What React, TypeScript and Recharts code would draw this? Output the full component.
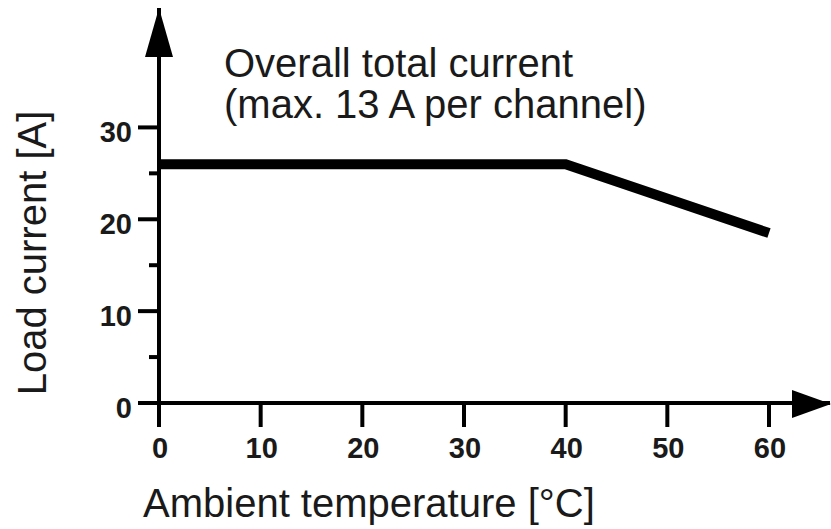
import React from 'react';
import { LineChart, Line, XAxis, YAxis, Customized } from 'recharts';

// derating curve: ambient temperature (°C) vs overall load current (A)
const temperatures = [0, 40, 60];
const currents = [26, 26, 18.5];
const xTicks = [0, 10, 20, 30, 40, 50, 60];
const yTicks = [0, 5, 10, 15, 20, 25, 30];

const data = temperatures.map((t, i) => ({ t, current: currents[i] }));

const W = 831;
const H = 529;
const PLOT_LEFT = 159;
const PLOT_TOP = 8;
const X_AXIS_H = 126;
const PLOT_BOTTOM = H - X_AXIS_H;
const FONT = '"Liberation Sans", Arial, Helvetica, sans-serif';
const INK = '#1a1a1a';

const XTick = (props: any) => {
  const { x, y, payload } = props;
  return (
    <g>
      <line x1={x} x2={x} y1={y} y2={y + 24} stroke="#000" strokeWidth={4} />
      <text x={x + 1} y={y + 55} textAnchor="middle" fontFamily={FONT} fontWeight="bold" fontSize={29} fill={INK}>
        {payload.value}
      </text>
    </g>
  );
};

const YTick = (props: any) => {
  const { x, y, payload } = props;
  const major = payload.value % 10 === 0;
  const len = major ? 21 : 10;
  return (
    <g>
      <line x1={x - len} x2={x} y1={y} y2={y} stroke="#000" strokeWidth={4} />
      {major && (
        <text x={x - 27} y={y + 15} textAnchor="end" fontFamily={FONT} fontWeight="bold" fontSize={29} fill={INK}>
          {payload.value}
        </text>
      )}
    </g>
  );
};

const Decorations = () => (
  <g>
    {/* axis arrow heads */}
    <polygon points={`${PLOT_LEFT},${PLOT_TOP} ${PLOT_LEFT - 14},${PLOT_TOP + 49} ${PLOT_LEFT + 14},${PLOT_TOP + 49}`} fill="#000" />
    <polygon points={`${W},${PLOT_BOTTOM + 1} ${W - 39},${PLOT_BOTTOM - 13} ${W - 39},${PLOT_BOTTOM + 15}`} fill="#000" />

    <text fontFamily={FONT} fontSize={40} fill={INK}>
      <tspan x={224} y={77}>Overall total current</tspan>
      <tspan x={224} y={118}>(max. 13 A per channel)</tspan>
    </text>

    <text x={143} y={517} fontFamily={FONT} fontSize={40} fill={INK}>
      Ambient temperature [°C]
    </text>

    <text
      x={46}
      y={253}
      transform="rotate(-90 46 253)"
      textAnchor="middle"
      fontFamily={FONT}
      fontSize={40}
      fill={INK}
    >
      Load current [A]
    </text>
  </g>
);

export default function App() {
  return (
    <div style={{ position: 'absolute', left: 0, top: 0, width: W, height: H, background: '#fff' }}>
      <LineChart width={W} height={H} data={data} margin={{ top: PLOT_TOP, right: 1, bottom: 0, left: 0 }}>
        <XAxis
          dataKey="t"
          type="number"
          domain={[0, 66]}
          ticks={xTicks}
          interval={0}
          height={X_AXIS_H}
          tickLine={false}
          tickSize={0}
          tickMargin={0}
          tick={<XTick />}
          axisLine={{ stroke: '#000', strokeWidth: 4 }}
        />
        <YAxis
          type="number"
          domain={[0, 43]}
          ticks={yTicks}
          interval={0}
          width={PLOT_LEFT}
          tickLine={false}
          tickSize={0}
          tickMargin={0}
          tick={<YTick />}
          axisLine={{ stroke: '#000', strokeWidth: 4 }}
        />
        <Line
          type="linear"
          dataKey="current"
          stroke="#000"
          strokeWidth={10}
          dot={false}
          activeDot={false}
          strokeLinecap="butt"
          isAnimationActive={false}
        />
        <Customized component={<Decorations />} />
      </LineChart>
    </div>
  );
}
